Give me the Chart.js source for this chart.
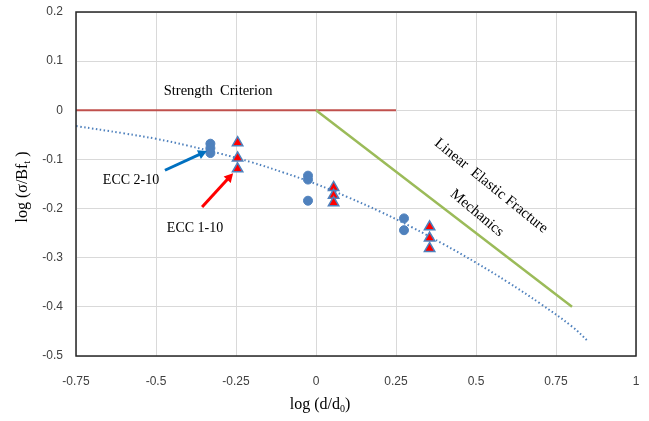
<!DOCTYPE html>
<html>
<head>
<meta charset="utf-8">
<script src="https://cdn.jsdelivr.net/npm/chart.js@4"></script>
<style>
  html, body { margin: 0; padding: 0; background: #ffffff; }
  #wrap { width: 649px; height: 421px; }
</style>
</head>
<body>
<div id="wrap"><canvas id="sizeChart"></canvas></div>
<script>
// Tick values
const xTicks = [-0.75, -0.5, -0.25, 0, 0.25, 0.5, 0.75, 1];
const yTicks = [0.2, 0.1, 0, -0.1, -0.2, -0.3, -0.4, -0.5];

// ECC 2-10 specimens (circles)
const ecc210X = [-0.33, -0.33, -0.33, -0.025, -0.025, -0.025, 0.275, 0.275];
const ecc210Y = [-0.068, -0.077, -0.087, -0.133, -0.141, -0.184, -0.220, -0.244];

// ECC 1-10 specimens (triangles)
const ecc110X = [-0.245, -0.245, -0.245, 0.055, 0.055, 0.055, 0.355, 0.355, 0.355];
const ecc110Y = [-0.066, -0.097, -0.119, -0.157, -0.173, -0.188, -0.237, -0.260, -0.281];

// Size effect curve
const curveX = [-0.75, -0.6, -0.5, -0.4, -0.3, -0.2, -0.1, 0, 0.1, 0.2, 0.3, 0.4, 0.5, 0.6, 0.7, 0.8, 0.85];
const curveY = [-0.032, -0.047, -0.058, -0.072, -0.088, -0.106, -0.127, -0.150, -0.177, -0.206, -0.238, -0.273, -0.310, -0.350, -0.393, -0.440, -0.470];

// Strength criterion and LEFM lines
const strengthX = [-0.75, 0.25];
const strengthY = [0, 0];
const lefmX = [0, 0.8];
const lefmY = [0, -0.4];

function toPoints(xs, ys) {
    return xs.map((x, i) => ({ x: x, y: ys[i] }));
}

const serif = '"Liberation Serif", "Times New Roman", serif';
const tickFont = '"Liberation Sans Narrow", "Liberation Sans", sans-serif';

// Text, arrows and frame drawn on top of the chart
const annotationPlugin = {
    id: 'annotations',
    afterDatasetsDraw(chart) {
        const ctx = chart.ctx;
        const xs = chart.scales.x;
        const ys = chart.scales.y;
        const area = chart.chartArea;
        const px = v => xs.getPixelForValue(v);
        const py = v => ys.getPixelForValue(v);

        ctx.save();
        // frame
        ctx.strokeStyle = '#262626';
        ctx.lineWidth = 1.5;
        ctx.strokeRect(area.left, area.top, area.right - area.left, area.bottom - area.top);

        ctx.fillStyle = '#000000';
        ctx.font = '14.5px ' + serif;
        ctx.textAlign = 'center';
        ctx.textBaseline = 'middle';
        ctx.fillText('Strength  Criterion', px(-0.306), py(0.039));
        ctx.font = '14px ' + serif;
        ctx.fillText('ECC 2-10', px(-0.578), py(-0.142));
        ctx.fillText('ECC 1-10', px(-0.378), py(-0.240));

        // rotated labels
        ctx.font = '15px ' + serif;
        ctx.save();
        ctx.translate(px(0.547), py(-0.154));
        ctx.rotate(39 * Math.PI / 180);
        ctx.fillText('Linear  Elastic Fracture', 0, 0);
        ctx.restore();
        ctx.save();
        ctx.translate(px(0.503), py(-0.209));
        ctx.rotate(40 * Math.PI / 180);
        ctx.fillText('Mechanics', 0, 0);
        ctx.restore();

        drawArrow(ctx, px(-0.472), py(-0.122), px(-0.341), py(-0.083), '#0070C0');
        drawArrow(ctx, px(-0.356), py(-0.197), px(-0.259), py(-0.128), '#FF0000');

        // axis titles with subscripts
        ctx.fillStyle = '#000000';
        drawSubTitle(ctx, 'log (d/d', '0', ')', px(0) + 4, 405);

        ctx.save();
        ctx.translate(23, 187);
        ctx.rotate(-Math.PI / 2);
        drawSubTitle(ctx, 'log (σ/Bf', 't', ' )', 0, 0);
        ctx.restore();
        ctx.restore();
    }
};

function drawSubTitle(ctx, main, sub, tail, cx, cy) {
    ctx.font = '16px ' + serif;
    const w1 = ctx.measureText(main).width;
    const w3 = ctx.measureText(tail).width;
    ctx.font = '10px ' + serif;
    const w2 = ctx.measureText(sub).width;
    let x = cx - (w1 + w2 + w3) / 2;
    ctx.textAlign = 'left';
    ctx.textBaseline = 'middle';
    ctx.font = '16px ' + serif;
    ctx.fillText(main, x, cy);
    x += w1;
    ctx.font = '10px ' + serif;
    ctx.fillText(sub, x, cy + 4);
    x += w2;
    ctx.font = '16px ' + serif;
    ctx.fillText(tail, x, cy);
}

function drawArrow(ctx, x1, y1, x2, y2, color) {
    const ang = Math.atan2(y2 - y1, x2 - x1);
    const head = 10;
    ctx.strokeStyle = color;
    ctx.fillStyle = color;
    ctx.lineWidth = 3;
    ctx.beginPath();
    ctx.moveTo(x1, y1);
    ctx.lineTo(x2 - head * 0.8 * Math.cos(ang), y2 - head * 0.8 * Math.sin(ang));
    ctx.stroke();
    ctx.beginPath();
    ctx.moveTo(x2, y2);
    ctx.lineTo(x2 - head * Math.cos(ang - 0.5), y2 - head * Math.sin(ang - 0.5));
    ctx.lineTo(x2 - head * Math.cos(ang + 0.5), y2 - head * Math.sin(ang + 0.5));
    ctx.closePath();
    ctx.fill();
}

function clearScalePadding(axis) {
    axis.paddingTop = 0;
    axis.paddingBottom = 0;
    axis.paddingLeft = 0;
    axis.paddingRight = 0;
}

document.addEventListener('DOMContentLoaded', function() {
    const ctx = document.getElementById('sizeChart').getContext('2d');
    new Chart(ctx, {
        type: 'scatter',
        data: {
            datasets: [
                {
                    label: 'Size effect',
                    data: toPoints(curveX, curveY),
                    showLine: true,
                    borderColor: '#4F81BD',
                    borderWidth: 2,
                    borderDash: [1.5, 2.5],
                    tension: 0.4,
                    pointRadius: 0,
                    order: 5
                },
                {
                    label: 'Strength Criterion',
                    data: toPoints(strengthX, strengthY),
                    showLine: true,
                    borderColor: '#C0504D',
                    borderWidth: 2,
                    pointRadius: 0,
                    order: 4
                },
                {
                    label: 'LEFM',
                    data: toPoints(lefmX, lefmY),
                    showLine: true,
                    borderColor: '#9BBB59',
                    borderWidth: 2.5,
                    pointRadius: 0,
                    order: 3
                },
                {
                    label: 'ECC 2-10',
                    data: toPoints(ecc210X, ecc210Y),
                    pointStyle: 'circle',
                    pointRadius: 4.5,
                    backgroundColor: '#4F81BD',
                    borderColor: '#4F81BD',
                    borderWidth: 1,
                    order: 2
                },
                {
                    label: 'ECC 1-10',
                    data: toPoints(ecc110X, ecc110Y),
                    pointStyle: 'triangle',
                    pointRadius: 6,
                    backgroundColor: '#FF0000',
                    borderColor: '#4F81BD',
                    borderWidth: 1.5,
                    order: 1
                }
            ]
        },
        options: {
            responsive: true,
            maintainAspectRatio: false,
            animation: false,
            layout: { padding: { left: 0, right: 13, top: 12, bottom: 0 } },
            plugins: {
                legend: { display: false },
                tooltip: { enabled: false }
            },
            scales: {
                x: {
                    type: 'linear',
                    min: -0.75,
                    max: 1,
                    afterBuildTicks: axis => { axis.ticks = xTicks.map(v => ({ value: v })); },
                    afterFit: axis => { axis.height = 65; clearScalePadding(axis); },
                    grid: { color: '#D9D9D9', lineWidth: 1, drawTicks: false },
                    border: { display: false },
                    ticks: {
                        padding: 18,
                        color: '#404040',
                        font: { family: tickFont, size: 12 },
                        maxRotation: 0,
                        callback: v => String(v)
                    }
                },
                y: {
                    type: 'linear',
                    min: -0.5,
                    max: 0.2,
                    afterBuildTicks: axis => { axis.ticks = yTicks.map(v => ({ value: v })); },
                    afterFit: axis => { axis.width = 76; clearScalePadding(axis); },
                    grid: { color: '#D9D9D9', lineWidth: 1, drawTicks: false },
                    border: { display: false },
                    ticks: {
                        padding: 13,
                        color: '#404040',
                        font: { family: tickFont, size: 12 },
                        callback: v => String(v)
                    }
                }
            }
        },
        plugins: [annotationPlugin]
    });
});
</script>
</body>
</html>
